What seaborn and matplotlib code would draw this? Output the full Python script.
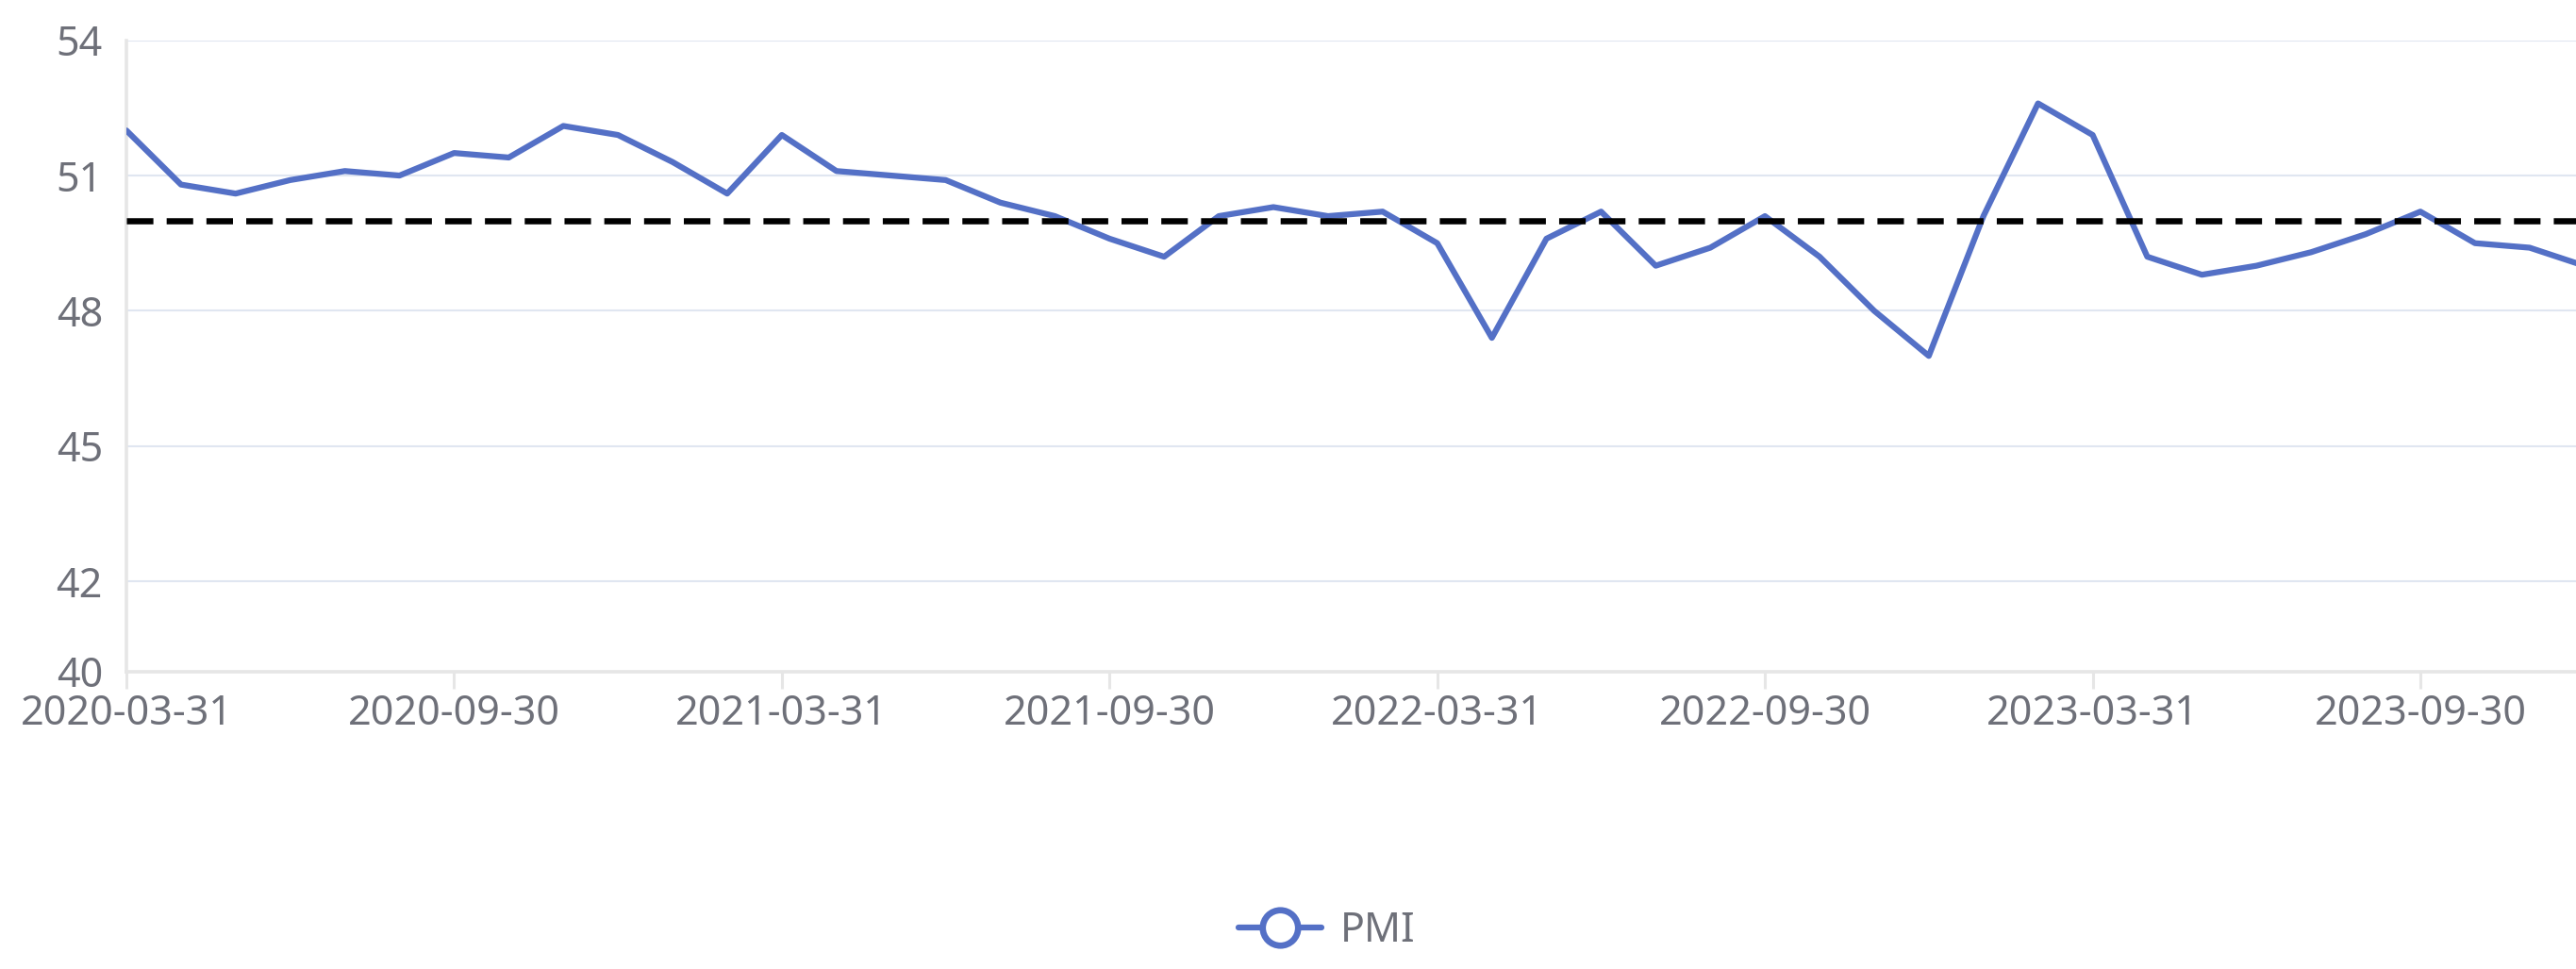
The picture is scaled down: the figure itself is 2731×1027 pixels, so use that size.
import numpy as np
import pandas as pd
import seaborn as sns
import matplotlib.pyplot as plt
from matplotlib.lines import Line2D


# monthly PMI, 2020-03 .. 2023-12 (last point falls just past the right edge)
months = pd.date_range("2020-03-31", "2023-12-31", freq="ME").strftime("%Y-%m-%d").tolist()
pmi = [52.0, 50.8, 50.6, 50.9, 51.1, 51.0, 51.5, 51.4, 52.1, 51.9,
       51.3, 50.6, 51.9, 51.1, 51.0, 50.9, 50.4, 50.1, 49.6, 49.2,
       50.1, 50.3, 50.1, 50.2, 49.5, 47.4, 49.6, 50.2, 49.0, 49.4,
       50.1, 49.2, 48.0, 47.0, 50.1, 52.6, 51.9, 49.2, 48.8, 49.0,
       49.3, 49.7, 50.2, 49.5, 49.4, 49.0]
threshold = 50
y_ticks = [40, 42, 45, 48, 51, 54]
x_tick_labels = months[::6]

df = pd.DataFrame({"pos": np.arange(len(months)), "PMI": pmi})

sns.set_style("white")
plt.rcParams['font.family'] = ['Noto Sans', 'DejaVu Sans']

W, H = 2731, 1027
fig = plt.figure(figsize=(W / 100, H / 100), dpi=100)
ax = fig.add_axes([134 / W, 1 - 711.7 / H, 1 - 134 / W, (711.7 - 42.7) / H])

blue = "#5470C6"
grey_txt = "#6E7079"
axis_col = "#E6E6E6"

sns.lineplot(data=df, x="pos", y="PMI", color=blue, linewidth=4.5, ax=ax, zorder=3)
ax.axhline(threshold, color="black", linewidth=4.7, dashes=(28 / 6.5, 14 / 6.5),
           dash_capstyle="butt", zorder=4)

ax.set_ylim(40, 54)
ax.set_xlim(0, (W - 134) / 57.905)
ax.set_yticks(y_ticks)
ax.set_xticks(np.arange(0, len(months), 6))
ax.set_xticklabels(x_tick_labels)

ax.yaxis.grid(True, color="#E0E6F1", linewidth=1.5)
ax.xaxis.grid(False)
ax.set_axisbelow(True)

for s in ["top", "right"]:
    ax.spines[s].set_visible(False)
for s in ["left", "bottom"]:
    ax.spines[s].set_color(axis_col)
    ax.spines[s].set_linewidth(2.6)

ax.tick_params(axis="x", length=13, width=2.2, color=axis_col, labelsize=31,
               labelcolor=grey_txt, pad=4, bottom=True)
ax.tick_params(axis="y", length=0, labelsize=31, labelcolor=grey_txt, pad=18)
ax.set_xlabel("")
ax.set_ylabel("")

handle = Line2D([], [], color=blue, linewidth=4.5, marker="o", markersize=27,
                markerfacecolor="white", markeredgecolor=blue, markeredgewidth=4.8)
leg = fig.legend([handle], ["PMI"], loc="center", bbox_to_anchor=(1406.5 / W, 1 - 987 / H),
                 frameon=False, fontsize=31, handlelength=2.05, handletextpad=0.45,
                 borderpad=0, labelcolor=grey_txt)

plt.savefig("out.png", dpi=100)
